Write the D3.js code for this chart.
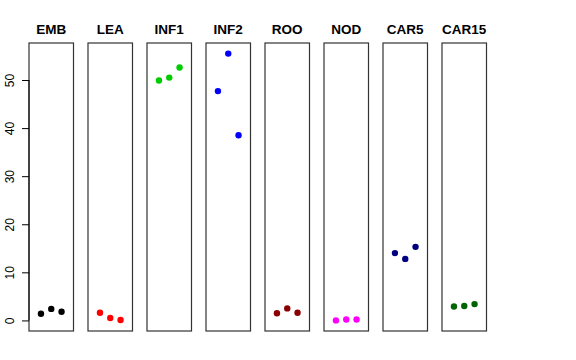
<!DOCTYPE html>
<html lang="en">
<head>
    <meta charset="UTF-8">
    <title>Strip panels</title>
    <style>
        body { margin: 0; background: #fff; }
        text { font-family: "Liberation Sans", Arial, sans-serif; }
    </style>
</head>
<body>
<script src="https://d3js.org/d3.v7.min.js"></script>
<script>
    // panel names, colours and the three values per panel
    var categories = ["EMB", "LEA", "INF1", "INF2", "ROO", "NOD", "CAR5", "CAR15"];
    var colors = ["#000000", "#ff0000", "#00cd00", "#0000ff", "#8b0000", "#ff00ff", "#000080", "#006400"];
    var values = [
        [1.4, 2.4, 1.8],
        [1.6, 0.5, 0.1],
        [49.9, 50.5, 52.6],
        [47.7, 55.5, 38.5],
        [1.5, 2.5, 1.6],
        [0.0, 0.2, 0.2],
        [14.0, 12.8, 15.3],
        [2.9, 3.0, 3.4]
    ];
    var yTicks = [0, 10, 20, 30, 40, 50];

    var width = 576, height = 360;
    var plotTop = 43, plotBottom = 331;

    var svg = d3.select("body")
                .append("svg")
                .attr("width", width)
                .attr("height", height);

    // one band per panel
    var band = d3.scaleBand()
                 .domain(categories)
                 .range([29, 486.5])
                 .paddingInner(14.5 / 59)
                 .paddingOuter(0);

    // shared y scale (R style 4% extension)
    var y = d3.scaleLinear()
              .domain([-2.2, 57.7])
              .range([plotBottom, plotTop]);

    // x inside each panel, points at 1,2,3 with xlim 0..4
    var xIn = d3.scaleLinear()
                .domain([-0.16, 4.16])
                .range([0, band.bandwidth()]);

    var panels = svg.selectAll("g.panel")
                    .data(categories)
                    .enter()
                    .append("g")
                    .attr("class", "panel")
                    .attr("transform", function (d) { return "translate(" + band(d) + ",0)"; });

    panels.append("rect")
          .attr("x", 0)
          .attr("y", plotTop)
          .attr("width", band.bandwidth())
          .attr("height", plotBottom - plotTop)
          .attr("fill", "none")
          .attr("stroke", "#333")
          .attr("stroke-width", 1.2);

    panels.append("text")
          .attr("x", band.bandwidth() / 2)
          .attr("y", 34)
          .attr("text-anchor", "middle")
          .attr("font-weight", "bold")
          .attr("font-size", 13.5)
          .text(function (d) { return d; });

    panels.each(function (d, i) {
        d3.select(this).selectAll("circle")
          .data(values[i])
          .enter()
          .append("circle")
          .attr("cx", function (v, j) { return xIn(j + 1); })
          .attr("cy", function (v) { return y(v); })
          .attr("r", 3.2)
          .attr("fill", colors[i]);
    });

    // y axis on the first panel
    var axisG = svg.append("g")
                   .attr("transform", "translate(" + band(categories[0]) + ",0)")
                   .call(d3.axisLeft(y).tickValues(yTicks).tickSize(7).tickPadding(3));
    axisG.select(".domain").remove();
    axisG.append("line")
         .attr("x1", 0).attr("x2", 0)
         .attr("y1", y(0)).attr("y2", y(50))
         .attr("stroke", "#000");
    axisG.selectAll(".tick line").attr("stroke", "#000");
    axisG.selectAll(".tick text")
         .attr("font-size", 12)
         .attr("font-family", "Liberation Sans, Arial, sans-serif")
         .attr("fill", "#000")
         .attr("text-anchor", "middle")
         .attr("x", null)
         .attr("dy", null)
         .attr("transform", "translate(-15,0) rotate(-90)");
</script>
</body>
</html>
